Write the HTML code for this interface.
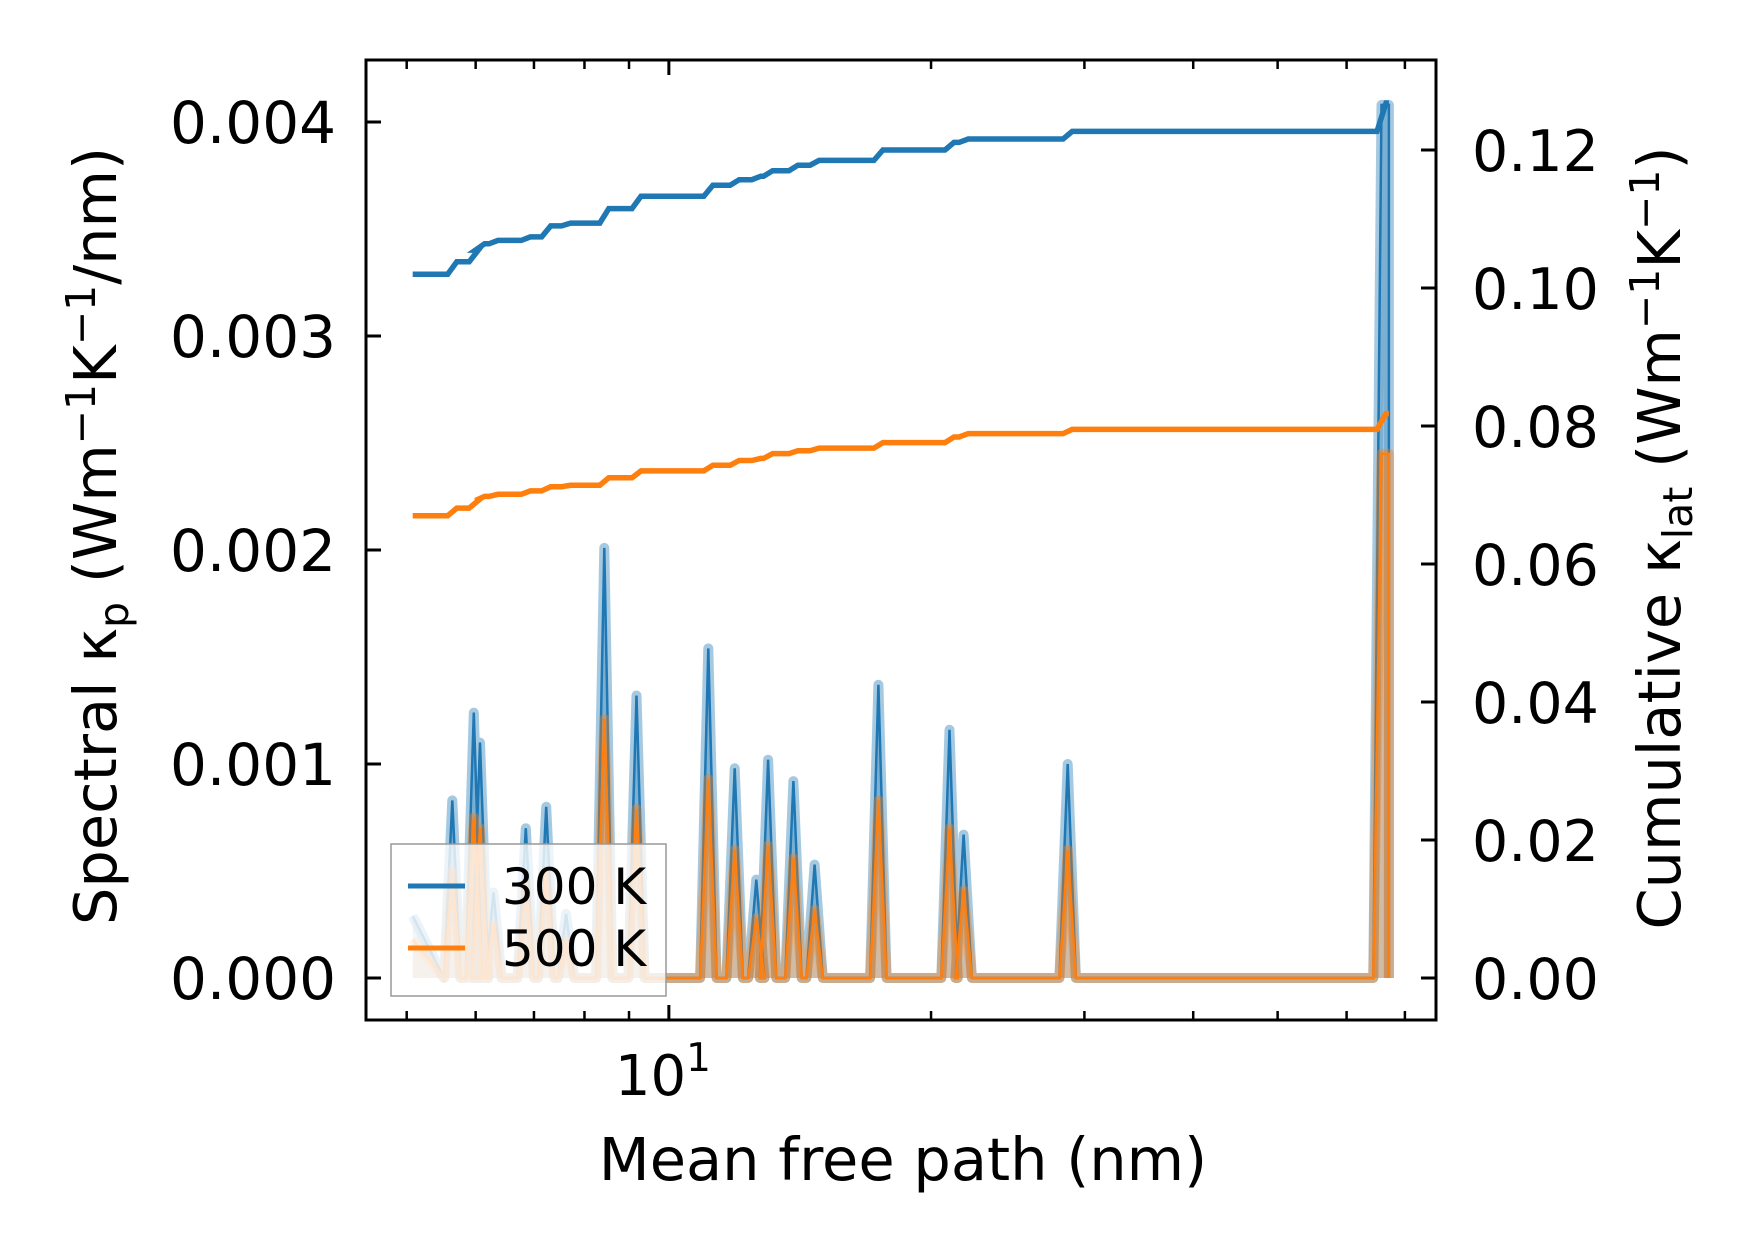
<!DOCTYPE html>
<html><head><meta charset="utf-8"><style>
html,body{margin:0;padding:0;background:#fff}
svg{display:block}
text{font-family:"DejaVu Sans","Liberation Sans",sans-serif;fill:#000}
</style></head><body>
<svg id="chart" width="1753" height="1253" viewBox="0 0 1753 1253" xmlns="http://www.w3.org/2000/svg">
<g id="plot"></g>
<rect x="366" y="60" width="1070" height="960" fill="none" stroke="#000" stroke-width="3"/>
<g id="ticks"></g>
<text x="903" y="1180" font-size="59" text-anchor="middle">Mean free path (nm)</text>
<text transform="translate(116,536) rotate(-90)" font-size="59" text-anchor="middle">Spectral κ<tspan font-size="41" dy="12">p</tspan><tspan dy="-12"> (Wm</tspan><tspan font-size="41" dy="-21">−1</tspan><tspan dy="21">K</tspan><tspan font-size="41" dy="-21">−1</tspan><tspan dy="21">/nm)</tspan></text>
<text transform="translate(1680,538) rotate(-90)" font-size="59" text-anchor="middle">Cumulative κ<tspan font-size="41" dy="12">lat</tspan><tspan dy="-12"> (Wm</tspan><tspan font-size="41" dy="-21">−1</tspan><tspan dy="21">K</tspan><tspan font-size="41" dy="-21">−1</tspan><tspan dy="21">)</tspan></text>
<g>
<rect x="391" y="844" width="275" height="152" fill="#fff" fill-opacity="0.8" stroke="#999" stroke-width="1.5"/>
<line x1="408" y1="886" x2="465" y2="886" stroke="#1f77b4" stroke-width="5"/>
<text x="502" y="904" font-size="50">300 K</text>
<line x1="408" y1="948" x2="465" y2="948" stroke="#ff7f0e" stroke-width="5"/>
<text x="502" y="966" font-size="50">500 K</text>
</g>
</svg>
<script>
// data
const peakMfp = [5.08,5.64,5.97,6.07,6.29,6.85,7.23,7.62,8.43,9.18,11.1,11.9,12.6,13.0,13.9,14.7,17.4,21.0,21.8,28.7,65.8];
const spec300 = [0.00029,0.00083,0.00124,0.0011,0.0004,0.0007,0.0008,0.0003,0.00201,0.00132,0.00154,0.00098,0.00046,0.00102,0.00092,0.00053,0.00137,0.00116,0.00067,0.001,0.00408];
const spec500 = [0.00018,0.0005,0.00075,0.0007,0.00025,0.00044,0.0005,0.00018,0.00121,0.00079,0.00093,0.0006,0.00028,0.00062,0.00056,0.00032,0.00083,0.0007,0.00041,0.0006,0.00245];
const cum300 = [0.1020,0.1038,0.1055,0.1064,0.1069,0.1074,0.1090,0.1094,0.1115,0.1133,0.1149,0.1157,0.1162,0.1170,0.1178,0.1185,0.1200,0.1211,0.1216,0.1227,0.1268];
const cum500 = [0.0670,0.0681,0.0692,0.0698,0.0701,0.0706,0.0712,0.0714,0.0725,0.0735,0.0743,0.0750,0.0753,0.0760,0.0764,0.0768,0.0776,0.0784,0.0789,0.0795,0.0818];
const leftTicks = [0,0.001,0.002,0.003,0.004];
const leftTickLabels = ["0.000","0.001","0.002","0.003","0.004"];
const rightTicks = [0,0.02,0.04,0.06,0.08,0.10,0.12];
const rightTickLabels = ["0.00","0.02","0.04","0.06","0.08","0.10","0.12"];
const minorX = [5,6,7,8,9,20,30,40,50,60,70];
const xmin = 4.49, xmax = 76, xEnd = 67.1;

const NS="http://www.w3.org/2000/svg";
const L=366,R=1436,T=60,B=1020;
const X=m=>L+(R-L)*(Math.log10(m)-Math.log10(xmin))/(Math.log10(xmax)-Math.log10(xmin));
const YL=v=>978-v*214000;
const YR=c=>978-c/0.02*138;
function mk(tag,attrs,parent){const e=document.createElementNS(NS,tag);for(const k in attrs)e.setAttribute(k,attrs[k]);parent.appendChild(e);return e;}
const plot=document.getElementById('plot');
const ticks=document.getElementById('ticks');

function specPts(vals){
  const pts=[[X(peakMfp[0]),YL(vals[0])]];
  for(let i=1;i<peakMfp.length;i++){
    const m=peakMfp[i];
    pts.push([X(m/1.022),YL(0)]);
    pts.push([X(m),YL(vals[i])]);
    if(i===peakMfp.length-1) pts.push([X(xEnd),YL(vals[i])]);
    else pts.push([X(m*1.022),YL(0)]);
  }
  pts.push([X(xEnd),YL(0)]);
  return pts;
}
function drawSpec(vals,color,name){
  const pts=specPts(vals);
  const d=pts.map((p,i)=>(i?'L':'M')+p[0].toFixed(1)+','+p[1].toFixed(1)).join('');
  const area=d+'L'+X(xEnd).toFixed(1)+','+YL(0)+'L'+X(peakMfp[0]).toFixed(1)+','+YL(0)+'Z';
  const a=mk('path',{d:area,fill:color,'fill-opacity':0.3,stroke:'none'},plot);
  
  
  const g=mk('path',{d:d,fill:'none',stroke:color,'stroke-opacity':0.4,'stroke-width':10,'stroke-linejoin':'round'},plot);
  
  
  const l=mk('path',{d:d,fill:'none',stroke:color,'stroke-width':2.5},plot);
  
  
}
function drawCum(vals,color,name){
  let d='M'+X(peakMfp[0]).toFixed(1)+','+YR(vals[0]).toFixed(1);
  for(let i=1;i<peakMfp.length;i++){
    const m=peakMfp[i];
    d+='L'+X(m/1.012).toFixed(1)+','+YR(vals[i-1]).toFixed(1);
    d+='L'+X(m*1.012).toFixed(1)+','+YR(vals[i]).toFixed(1);
  }
  d+='L'+X(xEnd).toFixed(1)+','+YR(vals[vals.length-1]).toFixed(1);
  const p=mk('path',{d:d,fill:'none',stroke:color,'stroke-width':5.5},plot);
  
  
}
drawSpec(spec300,'#1f77b4','spectral-300k');
drawSpec(spec500,'#ff7f0e','spectral-500k');
drawCum(cum300,'#1f77b4','cumulative-300k');
drawCum(cum500,'#ff7f0e','cumulative-500k');

leftTicks.forEach((v,i)=>{
  const y=YL(v);
  const t=mk('line',{x1:L,x2:L+15,y1:y,y2:y,stroke:'#000','stroke-width':3},ticks);
  
  
  const tx=mk('text',{x:336,y:y+21,'font-size':58,'text-anchor':'end'},ticks);
  tx.textContent=leftTickLabels[i];
  
  
});
rightTicks.forEach((v,i)=>{
  const y=YR(v);
  const t=mk('line',{x1:R-15,x2:R,y1:y,y2:y,stroke:'#000','stroke-width':3},ticks);
  
  
  const tx=mk('text',{x:1472,y:y+21,'font-size':57,'text-anchor':'start'},ticks);
  tx.textContent=rightTickLabels[i];
  
  
});
minorX.forEach(m=>{
  const x=X(m);
  [[B,B-9],[T,T+9]].forEach(([a,b])=>{
    const t=mk('line',{x1:x,x2:x,y1:a,y2:b,stroke:'#000','stroke-width':2.5},ticks);
    
    
  });
});
[[B,B-15],[T,T+15]].forEach(([a,b])=>{
  const t=mk('line',{x1:X(10),x2:X(10),y1:a,y2:b,stroke:'#000','stroke-width':3},ticks);
  
  
});
const xl=mk('text',{x:X(10)-6,y:1095,'font-size':56,'text-anchor':'middle'},ticks);


xl.innerHTML='10<tspan font-size="39" dy="-24">1</tspan>';
</script>
</body></html>
